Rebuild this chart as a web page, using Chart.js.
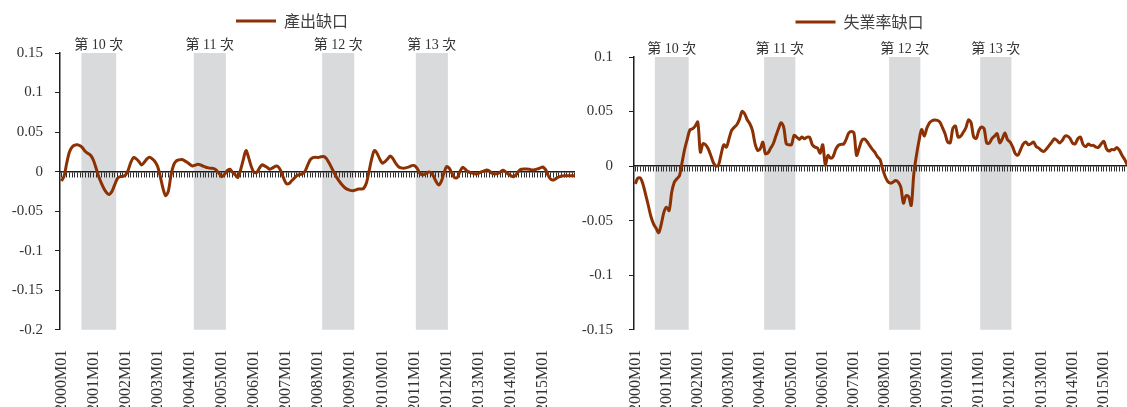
<!DOCTYPE html>
<html>
<head>
<meta charset="utf-8">
<script src="https://cdn.jsdelivr.net/npm/chart.js@4.4.1/dist/chart.umd.min.js"></script>
<style>
  html, body { margin: 0; padding: 0; background: #fff; width: 1127px; height: 407px; overflow: hidden; }
  .panel { position: absolute; top: 0; overflow: hidden; }
  canvas { display: block; }
</style>
</head>
<body>
<div class="panel" style="left:0; width:575px; height:407px;"><canvas id="outputGapChart" width="580" height="432"></canvas></div>
<div class="panel" style="left:575px; width:575px; height:407px;"><canvas id="unempGapChart" width="575" height="432"></canvas></div>
<script>
// Monthly categories, 2000M01 .. 2016M02
const months = [];
for (let y = 2000; y <= 2016; y++) {
  for (let m = 1; m <= 12; m++) {
    if (y === 2016 && m > 2) break;
    months.push(y + 'M' + String(m).padStart(2, '0'));
  }
}

// Categories that carry a visible axis label
const yearTicks = ['2000M01','2001M01','2002M01','2003M01','2004M01','2005M01','2006M01','2007M01',
  '2008M01','2009M01','2010M01','2011M01','2012M01','2013M01','2014M01','2015M01'];

// Business-cycle contractions (peak .. trough)
const cycleNames = ['第 10 次', '第 11 次', '第 12 次', '第 13 次'];
const cycleStart = ['2000M09', '2004M03', '2008M03', '2011M02'];
const cycleEnd   = ['2001M09', '2005M02', '2009M02', '2012M01'];

// 產出缺口 (output gap), monthly from 2000M01
const outputGap = [
  -0.012, -0.006, 0.0106, 0.0246, 0.031, 0.0335, 0.034, 0.0326, 0.0297, 0.0254,
  0.0229, 0.0204, 0.0144, 0.0042, -0.0064, -0.0148, -0.022, -0.027, -0.0288, -0.0246,
  -0.0161, -0.0085, -0.0064, -0.0059, -0.0042, 0.0021, 0.0119, 0.0178, 0.0161, 0.0127,
  0.0085, 0.0119, 0.0161, 0.0182, 0.0161, 0.0127, 0.0064, -0.0064, -0.0212, -0.0305,
  -0.0246, -0.0042, 0.0085, 0.0136, 0.0148, 0.0153, 0.014, 0.0119, 0.0093, 0.0072,
  0.0081, 0.0093, 0.0085, 0.0068, 0.0055, 0.0047, 0.0042, 0.0038, 0.0017, -0.0025,
  -0.0064, -0.0034, 0.0013, 0.003, -0.0008, -0.0042, -0.0072, 0.0021, 0.0148, 0.0267,
  0.0178, 0.0064, -0.0008, -0.0013, 0.0042, 0.0085, 0.0072, 0.0051, 0.003, 0.0047,
  0.0068, 0.0064, 0.0013, -0.0076, -0.0148, -0.0153, -0.0119, -0.0085, -0.0051, -0.0038,
  -0.003, 0, 0.0076, 0.0148, 0.0178, 0.0182, 0.0178, 0.0187, 0.0191, 0.017,
  0.0114, 0.0051, -0.0017, -0.0076, -0.0127, -0.017, -0.0204, -0.0225, -0.0237, -0.0242,
  -0.0233, -0.022, -0.022, -0.0212, -0.0148, 0, 0.0161, 0.0267, 0.0233, 0.0161,
  0.0106, 0.0127, 0.0161, 0.0199, 0.0161, 0.0106, 0.0064, 0.0047, 0.0042, 0.0051,
  0.0059, 0.0076, 0.0076, 0.0042, -0.0021, -0.0042, -0.003, -0.0008, -0.0008, -0.0051,
  -0.0119, -0.017, -0.0127, -0.0021, 0.0064, 0.0042, -0.0021, -0.0076, -0.0076, 0,
  0.0055, 0.003, 0, -0.0013, -0.0021, -0.003, -0.0021, -0.0004, 0.0008, 0.0021,
  0.0008, -0.0021, -0.003, -0.0025, -0.0008, 0.0017, 0, -0.003, -0.0051, -0.0064,
  -0.0038, 0.0008, 0.003, 0.0034, 0.0034, 0.003, 0.0021, 0.0025, 0.0034, 0.0047,
  0.0059, 0.0025, -0.0051, -0.0098, -0.0106, -0.0085, -0.0068, -0.0055, -0.0051, -0.0051,
  -0.0051, -0.0051, -0.0051
];

// 失業率缺口 (unemployment-rate gap), monthly from 2000M01
const unempGap = [
  -0.0162, -0.011, -0.011, -0.0171, -0.0263, -0.0361, -0.0462, -0.0529, -0.057, -0.061,
  -0.0529, -0.0422, -0.0376, -0.0407, -0.0238, -0.0147, -0.0116, -0.0086, 0.0037, 0.0159,
  0.0251, 0.0333, 0.0342, 0.0367, 0.0404, 0.0128, 0.0205, 0.0196, 0.0159, 0.0098,
  0.0031, 0, 0.0012, 0.0113, 0.0196, 0.0174, 0.0251, 0.0327, 0.0355, 0.0379,
  0.0428, 0.0501, 0.048, 0.0425, 0.0388, 0.0327, 0.0205, 0.0144, 0.0159, 0.022,
  0.0113, 0.0122, 0.0165, 0.0205, 0.0275, 0.0342, 0.0397, 0.0358, 0.0205, 0.0196,
  0.0196, 0.0281, 0.0266, 0.0245, 0.0266, 0.0251, 0.0266, 0.0263, 0.0196, 0.0174,
  0.0165, 0.0119, 0.0196, 0.0012, 0.0098, 0.0073, 0.0089, 0.0153, 0.019, 0.0199,
  0.0202, 0.0245, 0.0303, 0.0318, 0.0303, 0.0098, 0.0165, 0.0235, 0.0248, 0.0226,
  0.019, 0.0156, 0.0128, 0.0086, 0.0061, -0.0024, -0.0095, -0.0141, -0.0156, -0.0147,
  -0.0131, -0.0147, -0.0193, -0.034, -0.027, -0.028, -0.036, -0.007, 0.0098, 0.0235,
  0.0336, 0.0275, 0.0348, 0.0397, 0.0416, 0.0422, 0.0419, 0.0404, 0.0352, 0.0297,
  0.022, 0.0214, 0.0348, 0.0367, 0.0266, 0.0275, 0.031, 0.0352, 0.0425, 0.0397,
  0.0266, 0.0254, 0.0327, 0.0358, 0.0342, 0.0211, 0.0211, 0.0251, 0.0275, 0.0297,
  0.0214, 0.0251, 0.0303, 0.0242, 0.022, 0.0174, 0.0113, 0.0101, 0.015, 0.0202,
  0.022, 0.0196, 0.0205, 0.022, 0.018, 0.0165, 0.0144, 0.0135, 0.0159, 0.019,
  0.022, 0.0251, 0.0235, 0.0211, 0.0235, 0.0272, 0.0275, 0.0254, 0.0211, 0.0205,
  0.0251, 0.0266, 0.0199, 0.0177, 0.0202, 0.019, 0.019, 0.0174, 0.0174, 0.0205,
  0.0226, 0.0159, 0.0138, 0.0153, 0.015, 0.0171, 0.0144, 0.0098, 0.0061, 0.0012
];

// Value-axis tick labels
const outputGapTicks = [0.15, 0.1, 0.05, 0, -0.05, -0.1, -0.15, -0.2];
const unempGapTicks  = [0.1, 0.05, 0, -0.05, -0.1, -0.15];

const LINE = '#8B3103';
const BAND = '#D9DADC';
const AXIS = '#1f1f1f';
const TEXT = '#333333';
const SERIF = "'Liberation Serif', 'Noto Sans CJK TC', serif";
const CJK = "'Noto Sans CJK TC', 'Liberation Sans', sans-serif";

Chart.defaults.font.family = SERIF;
Chart.defaults.color = TEXT;

// Grey contraction bands with their captions, painted under the axes
const cycleBands = {
  id: 'cycleBands',
  beforeDraw(chart) {
    const { ctx, chartArea: a, scales: { x } } = chart;
    const step = x.getPixelForValue(1) - x.getPixelForValue(0);
    ctx.save();
    cycleStart.forEach((s, k) => {
      const x0 = x.getPixelForValue(months.indexOf(s)) - step / 2;
      const x1 = x.getPixelForValue(months.indexOf(cycleEnd[k])) + step / 2;
      ctx.fillStyle = BAND;
      ctx.fillRect(x0, a.top, x1 - x0, a.bottom - a.top);
      ctx.fillStyle = TEXT;
      ctx.font = "14px " + SERIF;
      ctx.textAlign = 'center';
      ctx.textBaseline = 'middle';
      ctx.fillText(cycleNames[k], (x0 + x1) / 2, a.top - 8);
    });
    ctx.restore();
  }
};

function gapChart(id, name, values, ticks, box) {
  return new Chart(document.getElementById(id), {
    type: 'line',
    data: {
      labels: months,
      datasets: [{
        label: name,
        data: values,
        xAxisID: 'x',
        yAxisID: 'y',
        borderColor: LINE,
        backgroundColor: LINE,
        borderWidth: 3,
        pointRadius: 0,
        tension: 0.3
      }]
    },
    options: {
      responsive: false,
      animation: false,
      devicePixelRatio: 1,
      layout: { padding: { left: box.padLeft, right: box.padRight, top: 0, bottom: 0 } },
      plugins: {
        tooltip: { enabled: false },
        legend: {
          position: 'top',
          labels: {
            boxWidth: 40,
            boxHeight: 3,
            padding: box.legendPad,
            color: '#404040',
            font: { family: CJK, size: 16 },
            generateLabels(chart) {
              return Chart.defaults.plugins.legend.labels.generateLabels(chart)
                .map(item => Object.assign(item, { lineWidth: 0 }));
            }
          }
        },
        // blank row under the legend that holds the cycle captions
        title: {
          display: true,
          text: ' ',
          position: 'top',
          weight: 500,
          font: { size: 10 },
          padding: { top: 0, bottom: box.captionGap }
        }
      },
      scales: {
        x: {
          type: 'category',
          position: 'bottom',
          offset: true,
          border: { display: false },
          grid: { display: false, drawTicks: false },
          ticks: {
            autoSkip: false,
            minRotation: 90,
            maxRotation: 90,
            padding: 20,
            color: TEXT,
            font: { size: 16 },
            callback: (v, i) => (yearTicks.includes(months[i]) ? months[i] : '')
          },
          afterFit(s) { s.paddingLeft = 0; s.paddingRight = 0; }
        },
        zeroAxis: {
          type: 'category',
          axis: 'x',
          position: { y: 0 },
          offset: true,
          border: { color: AXIS, width: 1.5 },
          grid: { drawOnChartArea: false, drawTicks: true, tickLength: 5, color: '#2e2e2e', lineWidth: 1 },
          ticks: { display: false, autoSkip: false },
          afterFit(s) { s.paddingLeft = 0; s.paddingRight = 0; s.height = 0; }
        },
        y: {
          type: 'linear',
          position: 'left',
          min: ticks[ticks.length - 1],
          max: ticks[0],
          border: { color: AXIS, width: 1.5 },
          grid: { drawOnChartArea: false, drawTicks: true, tickLength: 5, color: AXIS, lineWidth: 1 },
          ticks: {
            padding: box.yPad,
            color: TEXT,
            font: { size: 15 },
            callback: v => String(v)
          },
          afterBuildTicks(s) { s.ticks = ticks.map(v => ({ value: v })); },
          afterFit(s) { s.width = box.yWidth; }
        }
      }
    },
    plugins: [cycleBands]
  });
}

gapChart('outputGapChart', '產出缺口', outputGap, outputGapTicks,
  { padLeft: 5, padRight: 1, yWidth: 55, yPad: 12, legendPad: 13, captionGap: 2 });
gapChart('unempGapChart', '失業率缺口', unempGap, unempGapTicks,
  { padLeft: 5, padRight: 11, yWidth: 54, yPad: 16, legendPad: 14, captionGap: 5 });
</script>
</body>
</html>
